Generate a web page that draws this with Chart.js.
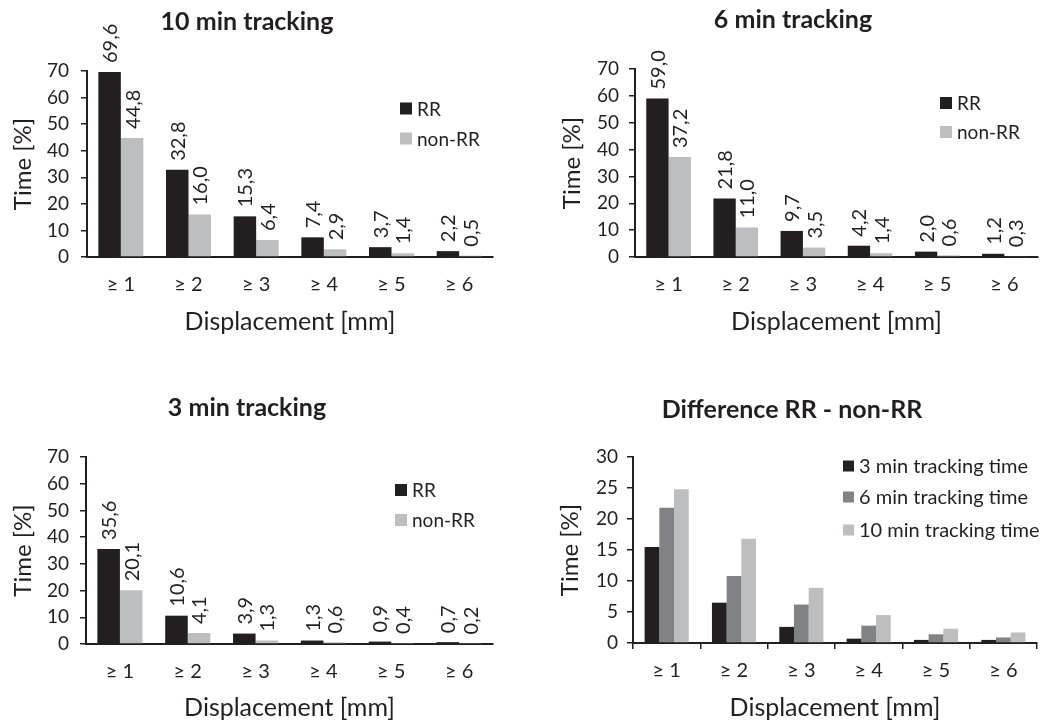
<!DOCTYPE html>
<html>
<head>
<meta charset="utf-8">
<title>Displacement over tracking time</title>
<script src="https://cdn.jsdelivr.net/npm/chart.js@4.4.1/dist/chart.umd.min.js"></script>
<style>
  html, body { margin: 0; padding: 0; background: #fff; }
  #wrap { position: relative; width: 1045px; height: 727px; overflow: hidden; }
  #wrap canvas { position: absolute; }
</style>
</head>
<body>
<div id="wrap">
  <canvas id="c10" width="520" height="345" style="left:0;top:0"></canvas>
  <canvas id="c6" width="525" height="345" style="left:520px;top:0"></canvas>
  <canvas id="c3" width="520" height="347" style="left:0;top:380px"></canvas>
  <canvas id="cdiff" width="525" height="347" style="left:520px;top:380px"></canvas>
</div>
<script>
// ─── DATA ───────────────────────────────────────────────────────────
const categories = ['≥ 1', '≥ 2', '≥ 3', '≥ 4', '≥ 5', '≥ 6'];

const rr10 = [69.6, 32.8, 15.3, 7.4, 3.7, 2.2];
const nonRr10 = [44.8, 16.0, 6.4, 2.9, 1.4, 0.5];

const rr6 = [59.0, 21.8, 9.7, 4.2, 2.0, 1.2];
const nonRr6 = [37.2, 11.0, 3.5, 1.4, 0.6, 0.3];

const rr3 = [35.6, 10.6, 3.9, 1.3, 0.9, 0.7];
const nonRr3 = [20.1, 4.1, 1.3, 0.6, 0.4, 0.2];

// RR minus non-RR per tracking time
const diff3 = [15.5, 6.5, 2.6, 0.7, 0.5, 0.5];
const diff6 = [21.8, 10.8, 6.2, 2.8, 1.4, 0.9];
const diff10 = [24.8, 16.8, 8.9, 4.5, 2.3, 1.7];

const INK = '#231f20';
const DARK = '#231f20';
const MID = '#808285';
const LIGHT = '#bcbec0';
const FONT = 'Lato, "Open Sans", sans-serif';

// Rotated value labels sitting above each bar (e.g. "69,6")
const barValues = {
  id: 'barValues',
  afterDatasetsDraw(chart, args, opts) {
    if (!opts.show) return;
    const ctx = chart.ctx;
    ctx.save();
    ctx.font = `${opts.size}px ${FONT}`;
    ctx.fillStyle = INK;
    ctx.textAlign = 'left';
    ctx.textBaseline = 'middle';
    chart.data.datasets.forEach((ds, i) => {
      chart.getDatasetMeta(i).data.forEach((bar, j) => {
        ctx.save();
        ctx.translate(bar.x + 1, bar.y - opts.gap);
        ctx.rotate(-Math.PI / 2);
        ctx.fillText(ds.data[j].toFixed(1).replace('.', ','), 0, 0);
        ctx.restore();
      });
    });
    ctx.restore();
  }
};

// Panel heading + legend placed inside the plot, to the right
const panelText = {
  id: 'panelText',
  afterDraw(chart, args, opts) {
    const ctx = chart.ctx;
    ctx.save();
    ctx.fillStyle = INK;
    ctx.font = `bold ${opts.titleSize}px ${FONT}`;
    ctx.textAlign = 'center';
    ctx.textBaseline = 'middle';
    ctx.fillText(opts.title, opts.titleX, opts.titleY);

    ctx.font = `${opts.legendSize}px ${FONT}`;
    ctx.textAlign = 'left';
    chart.data.datasets.forEach((ds, i) => {
      const y = opts.legendY[i];
      ctx.fillStyle = ds.backgroundColor;
      ctx.fillRect(opts.legendX, y - opts.box / 2, opts.box, opts.box);
      ctx.fillStyle = INK;
      ctx.fillText(ds.label, opts.legendX + opts.box + 5, y + 1);
    });
    ctx.restore();
  }
};

function makePanel(id, datasets, p) {
  return new Chart(document.getElementById(id), {
    type: 'bar',
    data: {
      labels: categories,
      datasets: datasets.map(d => ({
        label: d.label, data: d.data, backgroundColor: d.color,
        borderWidth: 0, barPercentage: 1, categoryPercentage: p.catPct
      }))
    },
    plugins: [barValues, panelText],
    options: {
      responsive: false,
      animation: false,
      events: [],
      layout: { padding: p.padding },
      plugins: {
        legend: { display: false },
        tooltip: { enabled: false },
        barValues: { show: p.values, size: 20, gap: 9 },
        panelText: {
          title: p.title, titleX: p.titleX, titleY: p.titleY, titleSize: 25,
          legendX: p.legendX, legendY: p.legendY, legendSize: p.legendSize, box: p.box
        }
      },
      scales: {
        x: {
          grid: { display: p.xTicks, drawOnChartArea: false, tickLength: 6, color: INK, lineWidth: 1.5 },
          border: { color: INK, width: 2 },
          ticks: { color: INK, font: { family: FONT, size: 20 }, padding: p.xPad, maxRotation: 0 },
          title: { display: true, text: 'Displacement [mm]', color: INK, font: { family: FONT, size: 25 }, padding: { top: 0, bottom: p.xTitlePad } },
          afterFit: s => { s.height = p.xHeight; }
        },
        y: {
          min: 0, max: p.yMax,
          grid: { drawOnChartArea: false, tickLength: 6, color: INK, lineWidth: 1.5 },
          border: { color: INK, width: 2 },
          ticks: { stepSize: p.yStep, color: INK, font: { family: FONT, size: 19 }, padding: p.yPad },
          title: { display: true, text: 'Time [%]', color: INK, font: { family: FONT, size: 24 }, padding: { top: 8.6, bottom: 0 } },
          afterFit: s => { s.width = p.yWidth; }
        }
      }
    }
  });
}

makePanel('c10', [
  { label: 'RR', data: rr10, color: DARK },
  { label: 'non-RR', data: nonRr10, color: LIGHT }
], {
  title: '10 min tracking', titleX: 247, titleY: 22,
  padding: { left: 0, top: 71, right: 27, bottom: 0 },
  yWidth: 87, xHeight: 88, yPad: 12, xPad: 10, xTitlePad: 8, xTicks: false,
  yMax: 70, yStep: 10, catPct: 0.665, values: true,
  legendX: 400, legendY: [108.5, 138.5], legendSize: 19, box: 12
});

makePanel('c6', [
  { label: 'RR', data: rr6, color: DARK },
  { label: 'non-RR', data: nonRr6, color: LIGHT }
], {
  title: '6 min tracking', titleX: 273, titleY: 20,
  padding: { left: 29, top: 69, right: 7, bottom: 0 },
  yWidth: 86, xHeight: 88, yPad: 10, xPad: 10, xTitlePad: 8, xTicks: false,
  yMax: 70, yStep: 10, catPct: 0.665, values: true,
  legendX: 420, legendY: [103, 132], legendSize: 19, box: 12
});

makePanel('c3', [
  { label: 'RR', data: rr3, color: DARK },
  { label: 'non-RR', data: nonRr3, color: LIGHT }
], {
  title: '3 min tracking', titleX: 247, titleY: 28,
  padding: { left: 0, top: 77, right: 27, bottom: 0 },
  yWidth: 86, xHeight: 83, yPad: 11, xPad: 10, xTitlePad: 4, xTicks: false,
  yMax: 70, yStep: 10, catPct: 0.665, values: true,
  legendX: 395, legendY: [110, 140], legendSize: 19, box: 12
});

makePanel('cdiff', [
  { label: '3 min tracking time', data: diff3, color: DARK },
  { label: '6 min tracking time', data: diff6, color: MID },
  { label: '10 min tracking time', data: diff10, color: LIGHT }
], {
  title: 'Difference RR - non-RR', titleX: 272, titleY: 30,
  padding: { left: 27, top: 77, right: 8, bottom: 0 },
  yWidth: 86, xHeight: 84, yPad: 9, xPad: 10, xTitlePad: 4, xTicks: true,
  yMax: 30, yStep: 5, catPct: 0.655, values: false,
  legendX: 323, legendY: [86, 117, 150], legendSize: 20, box: 11
});
</script>
</body>
</html>
